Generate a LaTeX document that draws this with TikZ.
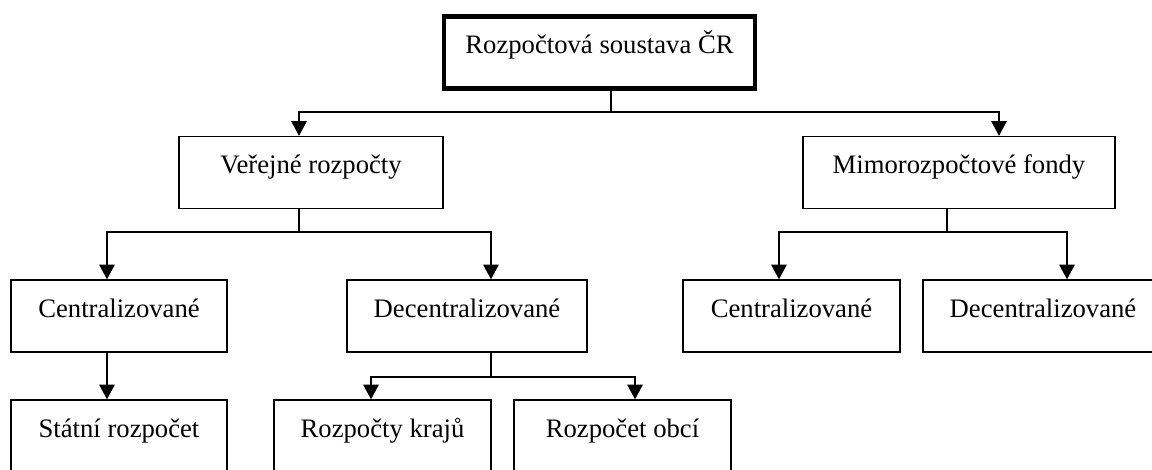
\documentclass[tikz,border=0pt]{standalone}
\usepackage{fontspec}
\setmainfont{Liberation Serif}
\usetikzlibrary{arrows.meta}

\tikzset{every picture/.style={line width=0.75pt}}
\tikzset{
  box/.style={draw, rectangle, line width=1pt, inner sep=0pt, text height=27.75pt, text depth=26.25pt, font=\fontsize{20}{24}\selectfont},
  link/.style={line width=1.3pt},
  arr/.style={link, -{Triangle[length=11pt,width=11.5pt]}}
}

\begin{document}
\begin{tikzpicture}[x=0.75pt,y=0.75pt,yscale=-1,xscale=1]
\useasboundingbox (0,0) rectangle (1152,469);

%Shape: Rectangle [top]
\node [box, line width=3.4pt, minimum width=233.25pt] (top) at (599.5,52.5) {Rozpočtová soustava ČR};
%Shape: Rectangle [second row]
\node [box, minimum width=198pt] (ver) at (311,172.5) {Veřejné rozpočty};
\node [box, minimum width=234pt] (mimo) at (959,172.5) {Mimorozpočtové fondy};
%Shape: Rectangle [third row]
\node [box, minimum width=162pt] (centL) at (119,316) {Centralizované};
\node [box, minimum width=180pt] (decL) at (467,316) {Decentralizované};
\node [box, minimum width=162.75pt] (centR) at (791.5,316) {Centralizované};
\node [box, minimum width=180pt] (decR) at (1043,316) {Decentralizované};
%Shape: Rectangle [bottom row]
\node [box, minimum width=162pt] (statni) at (119,436) {Státní rozpočet};
\node [box, minimum width=162.75pt] (kraju) at (382.5,436) {Rozpočty krajů};
\node [box, minimum width=162.75pt] (obci) at (622.5,436) {Rozpočet obcí};

% junctions
\coordinate (j0) at (611,112);
\coordinate (j1) at (299,232);
\coordinate (j2) at (947,232);
\coordinate (j3) at (491,377);

%Straight Lines
\draw [link] (top.south -| j0) -- (j0);
\draw [arr] (j0) -| ([xshift=-9pt]ver.north);
\draw [arr] (j0) -| ([xshift=30pt]mimo.north);
%Straight Lines
\draw [link] (ver.south -| j1) -- (j1);
\draw [arr] (j1) -| ([xshift=-9pt]centL.north);
\draw [arr] (j1) -| ([xshift=18pt]decL.north);
%Straight Lines
\draw [link] (mimo.south -| j2) -- (j2);
\draw [arr] (j2) -| ([xshift=-9.4pt]centR.north);
\draw [arr] (j2) -| ([xshift=18pt]decR.north);
%Straight Lines
\draw [arr] ([xshift=-9pt]centL.south) -- ([xshift=-9pt]statni.north);
\draw [link] (decL.south -| j3) -- (j3);
\draw [arr] (j3) -| ([xshift=-8.6pt]kraju.north);
\draw [arr] (j3) -| ([xshift=9.4pt]obci.north);

\end{tikzpicture}
\end{document}
